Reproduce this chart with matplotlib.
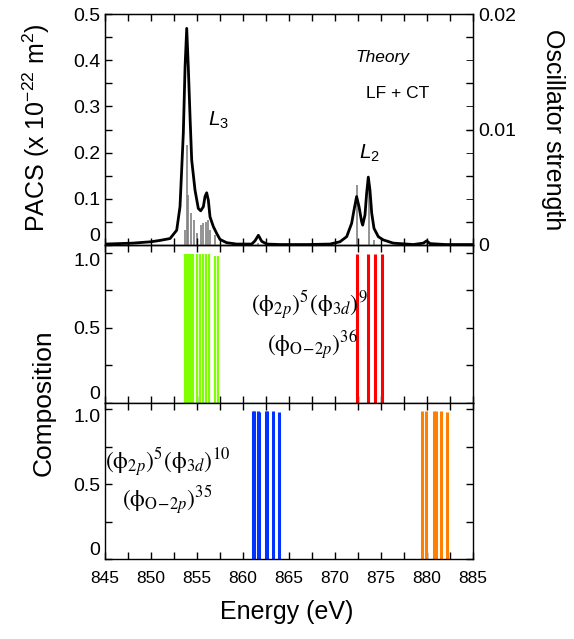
import numpy as np
import matplotlib
matplotlib.use('Agg')
import matplotlib.pyplot as plt
from matplotlib.ticker import MultipleLocator, FixedLocator

plt.rcParams['font.family'] = ['Liberation Sans', 'DejaVu Sans']
plt.rcParams['mathtext.fontset'] = 'custom'
plt.rcParams['mathtext.rm'] = 'Liberation Sans'
plt.rcParams['mathtext.it'] = 'Liberation Sans:italic'

# broadened spectrum (PACS)
specE = [845.0, 848.0, 850.0, 851.0, 852.07, 852.79, 853.15, 853.51, 853.70, 853.88,
         854.05, 854.24, 854.42, 854.78, 855.14, 855.40, 855.69, 855.87, 856.05, 856.23,
         856.41, 856.77, 857.14, 857.50, 858.22, 859.31, 860.94, 861.30, 861.67, 862.03,
         862.58, 864.0, 867.0, 869.46, 870.54, 871.27, 871.81, 872.07, 872.35, 872.61,
         872.90, 873.01, 873.26, 873.44, 873.62, 873.80, 873.99, 874.24, 874.71, 875.25,
         876.34, 878.51, 879.60, 879.97, 880.33, 882.0, 885.0]
specI = [0.002, 0.004, 0.007, 0.010, 0.014, 0.032, 0.083, 0.242, 0.386, 0.469,
         0.386, 0.278, 0.184, 0.119, 0.079, 0.074, 0.083, 0.105, 0.113, 0.097,
         0.061, 0.040, 0.025, 0.012, 0.005, 0.002, 0.002, 0.009, 0.021, 0.008,
         0.002, 0.001, 0.001, 0.002, 0.007, 0.018, 0.047, 0.076, 0.105, 0.083,
         0.050, 0.043, 0.065, 0.112, 0.147, 0.119, 0.069, 0.036, 0.018, 0.011,
         0.004, 0.001, 0.004, 0.009, 0.003, 0.001, 0.001]

# oscillator strengths (sticks)
stickE = [853.70, 853.88, 854.05, 854.32, 854.67, 854.97, 855.40, 855.68, 855.95, 856.16,
          856.41, 856.96, 861.67, 872.36, 873.70, 874.25, 880.0]
stickF = [0.0013, 0.0087, 0.0043, 0.0028, 0.0022, 0.0010, 0.0017, 0.0019, 0.0020, 0.0022,
          0.0013, 0.0009, 0.0002, 0.0052, 0.0050, 0.0004, 0.0002]

# composition, (2p)5(3d)9 configuration
greenE = [853.70, 853.88, 854.13, 854.35, 854.60, 854.97, 855.33, 855.62, 855.95, 856.30,
          856.96, 857.32]
greenC = [0.99, 0.99, 0.99, 0.99, 0.99, 0.99, 0.99, 0.99, 0.99, 0.99, 0.98, 0.98]
redE = [872.36, 873.62, 874.35, 875.07]
redC = [0.99, 0.99, 0.99, 0.99]

# composition, (2p)5(3d)10 configuration
blueE = [861.05, 861.20, 861.63, 861.77, 862.47, 862.64, 863.23, 863.91]
blueC = [0.99, 0.99, 0.99, 0.98, 0.99, 0.99, 0.99, 0.98]
orangeE = [879.46, 879.89, 880.80, 880.98, 881.49, 882.21]
orangeC = [0.99, 0.99, 0.99, 0.99, 0.99, 0.98]

xticks = [845, 850, 855, 860, 865, 870, 875, 880, 885]

fig = plt.figure(figsize=(5.74, 6.39), dpi=100)
L, W = 0.183, 0.641
ax1 = fig.add_axes([L, 0.6166, W, 0.3614])
ax2 = fig.add_axes([L, 0.3693, W, 0.2473])
ax3 = fig.add_axes([L, 0.1252, W, 0.2441])


def style(ax):
    ax.set_xlim(845, 885)
    ax.xaxis.set_major_locator(FixedLocator(xticks))
    ax.xaxis.set_minor_locator(MultipleLocator(2.5))
    ax.tick_params(which='both', direction='in', top=True, right=True,
                   length=5, width=1)
    ax.tick_params(axis='x', labelsize=12.5, pad=9)
    ax.tick_params(axis='y', labelsize=14)
    for s in ax.spines.values():
        s.set_linewidth(1.0)


# top panel
ax1r = ax1.twinx()
ax1r.vlines(stickE, 0, stickF, color='#808080', lw=1.2)
ax1r.set_ylim(0, 0.02)
ax1r.set_yticks([0, 0.01, 0.02])
ax1r.set_yticklabels(['0', '0.01', '0.02'])
ax1r.yaxis.set_minor_locator(MultipleLocator(0.002))
ax1r.tick_params(which='both', direction='in', length=5, labelsize=14)

ax1.set_zorder(ax1r.get_zorder() + 1)
ax1.patch.set_visible(False)
ax1.plot(specE, specI, color='black', lw=2)
style(ax1)
ax1.tick_params(axis='y', right=False)
ax1.set_ylim(0, 0.5)
ax1.set_yticks([0, 0.1, 0.2, 0.3, 0.4, 0.5])
labs = ax1.set_yticklabels(['0', '0.1', '0.2', '0.3', '0.4', '0.5'])
labs[0].set_va('bottom')
ax1.yaxis.set_minor_locator(MultipleLocator(0.05))
ax1.set_xticklabels([])
ax1.text(875.2, 0.405, 'Theory', style='italic', fontsize=12.5, ha='center', va='center')
ax1.text(876.8, 0.329, 'LF + CT', fontsize=12.5, ha='center', va='center')
ax1.text(857.3, 0.27, r'$\mathit{L}_3$', fontsize=15, ha='center', va='center')
ax1.text(873.8, 0.198, r'$\mathit{L}_2$', fontsize=15, ha='center', va='center')

# middle panel
ax2.vlines(greenE, 0, greenC, color='#7fff00', lw=1.6)
ax2.vlines(redE, 0, redC, color='#ff0000', lw=2.2)
style(ax2)
ax2.set_ylim(0, 1.05)
ax2.set_yticks([0, 0.5, 1.0])
labs = ax2.set_yticklabels(['0', '0.5', '1.0'])
labs[0].set_va('bottom')
labs[2].set_va('top')
ax2.yaxis.set_minor_locator(MultipleLocator(0.25))
ax2.set_xticklabels([])
ax2.text(867.2, 0.65, r'$(\mathrm{\phi}_{2\mathit{p}})^{5}(\mathrm{\phi}_{3\mathit{d}})^{9}$',
         math_fontfamily='stix', fontsize=17, ha='center', va='center')
ax2.text(867.6, 0.385, r'$(\mathrm{\phi}_{\mathrm{O\!-\!2}\mathit{p}})^{36}$',
         math_fontfamily='stix', fontsize=17, ha='center', va='center')

# bottom panel
ax3.vlines(blueE, 0, blueC, color='#0033ff', lw=2.2)
ax3.vlines(orangeE, 0, orangeC, color='#ff8000', lw=2.2)
style(ax3)
ax3.set_ylim(0, 1.04)
ax3.set_yticks([0, 0.5, 1.0])
labs = ax3.set_yticklabels(['0', '0.5', '1.0'])
labs[0].set_va('bottom')
labs[2].set_va('top')
ax3.yaxis.set_minor_locator(MultipleLocator(0.25))
ax3.set_xticklabels([str(t) for t in xticks])
ax3.text(851.8, 0.647, r'$(\mathrm{\phi}_{2\mathit{p}})^{5}(\mathrm{\phi}_{3\mathit{d}})^{10}$',
         math_fontfamily='stix', fontsize=17, ha='center', va='center')
ax3.text(851.8, 0.39, r'$(\mathrm{\phi}_{\mathrm{O\!-\!2}\mathit{p}})^{35}$',
         math_fontfamily='stix', fontsize=17, ha='center', va='center')

# axis titles
fig.text(36 / 574, 1 - 128 / 639, 'PACS (x 10$^{-22}$ m$^{2}$)', rotation=90,
         fontsize=18, ha='center', va='center')
fig.text(553 / 574, 1 - 130 / 639, 'Oscillator strength', rotation=270,
         fontsize=18, ha='center', va='center')
fig.text(44 / 574, 1 - 403 / 639, 'Composition', rotation=90,
         fontsize=19, ha='center', va='center')
fig.text(287 / 574, 1 - 612 / 639, 'Energy (eV)', fontsize=18, ha='center', va='center')

fig.savefig('out.png', dpi=100)
